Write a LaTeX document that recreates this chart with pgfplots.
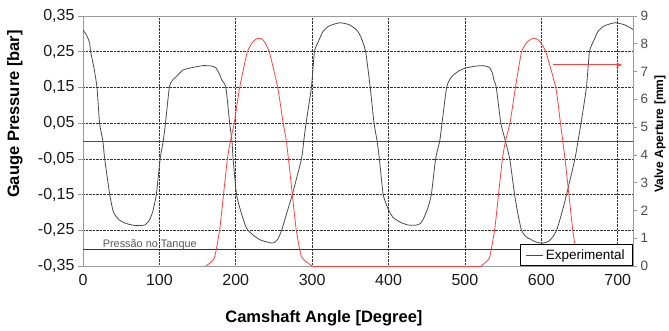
\documentclass[border=0pt]{standalone}
\usepackage{pgfplots}
\pgfplotsset{compat=1.18}
\usepackage{fontspec}
\setmainfont{Liberation Sans}
\usetikzlibrary{arrows.meta}
\definecolor{curvegray}{HTML}{4A4A4A}
\definecolor{valvered}{HTML}{FF4040}
\definecolor{framegray}{HTML}{9A9A9A}

\pgfplotstableread{
x p
0 0.311
5 0.295
8.7 0.274
10 0.25
14.4 0.204
18.3 0.15
21.7 0.05
26 0.0
28.4 -0.05
35 -0.15
40 -0.2
48 -0.222
58 -0.232
70 -0.237
81 -0.235
87 -0.221
91 -0.2
96 -0.15
101 -0.05
105 0.0
108 0.05
113 0.15
117 0.17
122 0.18
131 0.199
144 0.206
157 0.211
168 0.21
174 0.205
178 0.19
182 0.17
187 0.15
192 0.05
195 0.0
196.5 -0.05
201 -0.15
207 -0.2
214 -0.244
222 -0.262
232 -0.277
245 -0.285
250 -0.285
255 -0.275
260 -0.25
267 -0.2
274 -0.15
286 -0.05
289 0.0
292 0.05
299 0.15
303 0.25
308 0.278
314 0.306
322 0.322
336 0.331
348 0.326
356 0.315
360 0.306
364 0.29
370 0.25
376 0.15
381 0.05
385 0.0
388 -0.05
393 -0.15
400 -0.193
406 -0.214
415 -0.227
425 -0.235
435 -0.236
441 -0.232
445 -0.221
451 -0.19
456 -0.15
461.6 -0.05
467 0.0
470 0.05
476 0.15
481 0.175
485 0.185
492 0.196
500 0.204
512 0.209
523 0.211
532 0.206
536 0.19
538 0.17
541 0.15
547 0.05
553 0.0
558.6 -0.05
565 -0.15
569 -0.2
574 -0.25
580 -0.268
593 -0.283
602 -0.286
610 -0.28
615 -0.268
620 -0.25
627 -0.2
633 -0.15
644 -0.05
648 0.0
652 0.05
659 0.15
663 0.25
668 0.278
674 0.306
682 0.322
696 0.331
708 0.326
718 0.315
720 0.312
}\pressure

\pgfplotstableread{
x mm
161 0
172 0.29
179 1.33
184 2.59
189 3.85
193 4.5
198 5.15
205 6.41
215 7.7
222 8.05
226 8.16
231 8.2
235 8.16
238 8.05
244 7.7
255 6.41
262 5.15
266 4.54
270 3.6
274 2.59
279 1.33
286 0.33
300 0
}\valveA

\pgfplotstableread{
x mm
300 0
521 0
}\valveflat

\pgfplotstableread{
x mm
521 0
532 0.29
539 1.33
544 2.59
549 3.85
553 4.5
559 5.15
566 6.41
574 7.7
581 8.05
586 8.16
591 8.2
595 8.16
599 8.05
606 7.7
619 6.41
625 5.15
631 3.85
636 2.59
641 1.33
645 0.6
648 0.3
660 0
}\valveB

\begin{document}
\begin{tikzpicture}
\begin{axis}[
  name=main,
  scale only axis, width=550pt, height=250pt,
  xmin=0, xmax=720, ymin=-0.35, ymax=0.35,
  xtick={0,100,200,300,400,500,600,700},
  ytick={-0.35,-0.25,-0.15,-0.05,0.05,0.15,0.25,0.35},
  grid=major,
  major grid style={densely dotted, black!80, line width=0.6pt},
  axis line style={framegray, line width=0.8pt},
  ytick pos=left, xtick pos=bottom,
  tick align=outside,
  xtick style={draw=none},
  ytick style={framegray, line width=0.6pt},
  major tick length=5pt,
  /pgf/number format/assume math mode=true,
  tick label style={font=\fontsize{16}{18}\selectfont, text=black!90},
  yticklabel style={/pgf/number format/.cd, fixed, fixed zerofill, precision=2, use comma},
  xticklabel style={/pgf/number format/.cd, fixed, precision=0},
  xlabel={Camshaft Angle [Degree]},
  ylabel={Gauge Pressure [bar]},
  label style={font=\fontsize{16.5}{18}\selectfont\bfseries},
  xlabel style={at={(rel axis cs:0.438,-0.208)}, anchor=center},
  ylabel style={at={(rel axis cs:-0.1236,0.608)}, anchor=center},
  clip=false,
]
\draw[black!70, line width=0.9pt] (axis cs:0,0) -- (axis cs:720,0);
\draw[black!80, line width=0.9pt] (axis cs:0,-0.305) -- (axis cs:720,-0.305);
\node[anchor=base, font=\fontsize{10.9}{12}\selectfont, text=black!65, inner sep=0pt] at (axis cs:87.4,-0.2985) {Pressão no Tanque};
\addplot[curvegray, line width=0.8pt, mark=none, smooth, tension=0.35] table[x=x, y=p] {\pressure};
\end{axis}
\begin{axis}[
  at={(main.south west)}, anchor=south west,
  scale only axis, width=550pt, height=250pt,
  xmin=0, xmax=720, ymin=0, ymax=9,
  axis x line=none,
  axis y line*=right,
  axis line style={framegray, line width=0.8pt},
  ytick={0,1,2,3,4,5,6,7,8,9},
  tick align=outside,
  ytick style={framegray, line width=0.6pt},
  major tick length=4pt,
  /pgf/number format/assume math mode=true,
  yticklabel style={font=\fontsize{13.5}{15}\selectfont, text=black!70},
  ylabel={Valve Aperture [mm]},
  ylabel style={font=\fontsize{12}{14}\selectfont\bfseries, at={(rel axis cs:1.049,0.528)}, anchor=center},
  legend style={at={(1,0)}, anchor=south east, draw=black, fill=white,
    font=\fontsize{13.5}{15}\selectfont, inner xsep=6pt, inner ysep=3pt, line width=0.8pt},
  legend cell align=left,
  clip=false,
]
\addplot[valvered, line width=0.8pt, mark=none, forget plot, smooth, tension=0.3] table[x=x, y=mm] {\valveA};
\addplot[valvered, line width=0.8pt, mark=none, forget plot] table[x=x, y=mm] {\valveflat};
\addplot[valvered, line width=0.8pt, mark=none, forget plot, smooth, tension=0.3] table[x=x, y=mm] {\valveB};
\draw[valvered, line width=0.8pt, -{Latex[length=6pt, width=5pt]}] (axis cs:614.8,7.24) -- (axis cs:706.4,7.24);
\addlegendimage{curvegray, line width=0.8pt}
\addlegendentry{Experimental}
\end{axis}
\pgfresetboundingbox
\path[use as bounding box] ([shift={(-83pt,-65pt)}]main.south west) rectangle ([shift={(36pt,16pt)}]main.north east);
\end{tikzpicture}
\end{document}
